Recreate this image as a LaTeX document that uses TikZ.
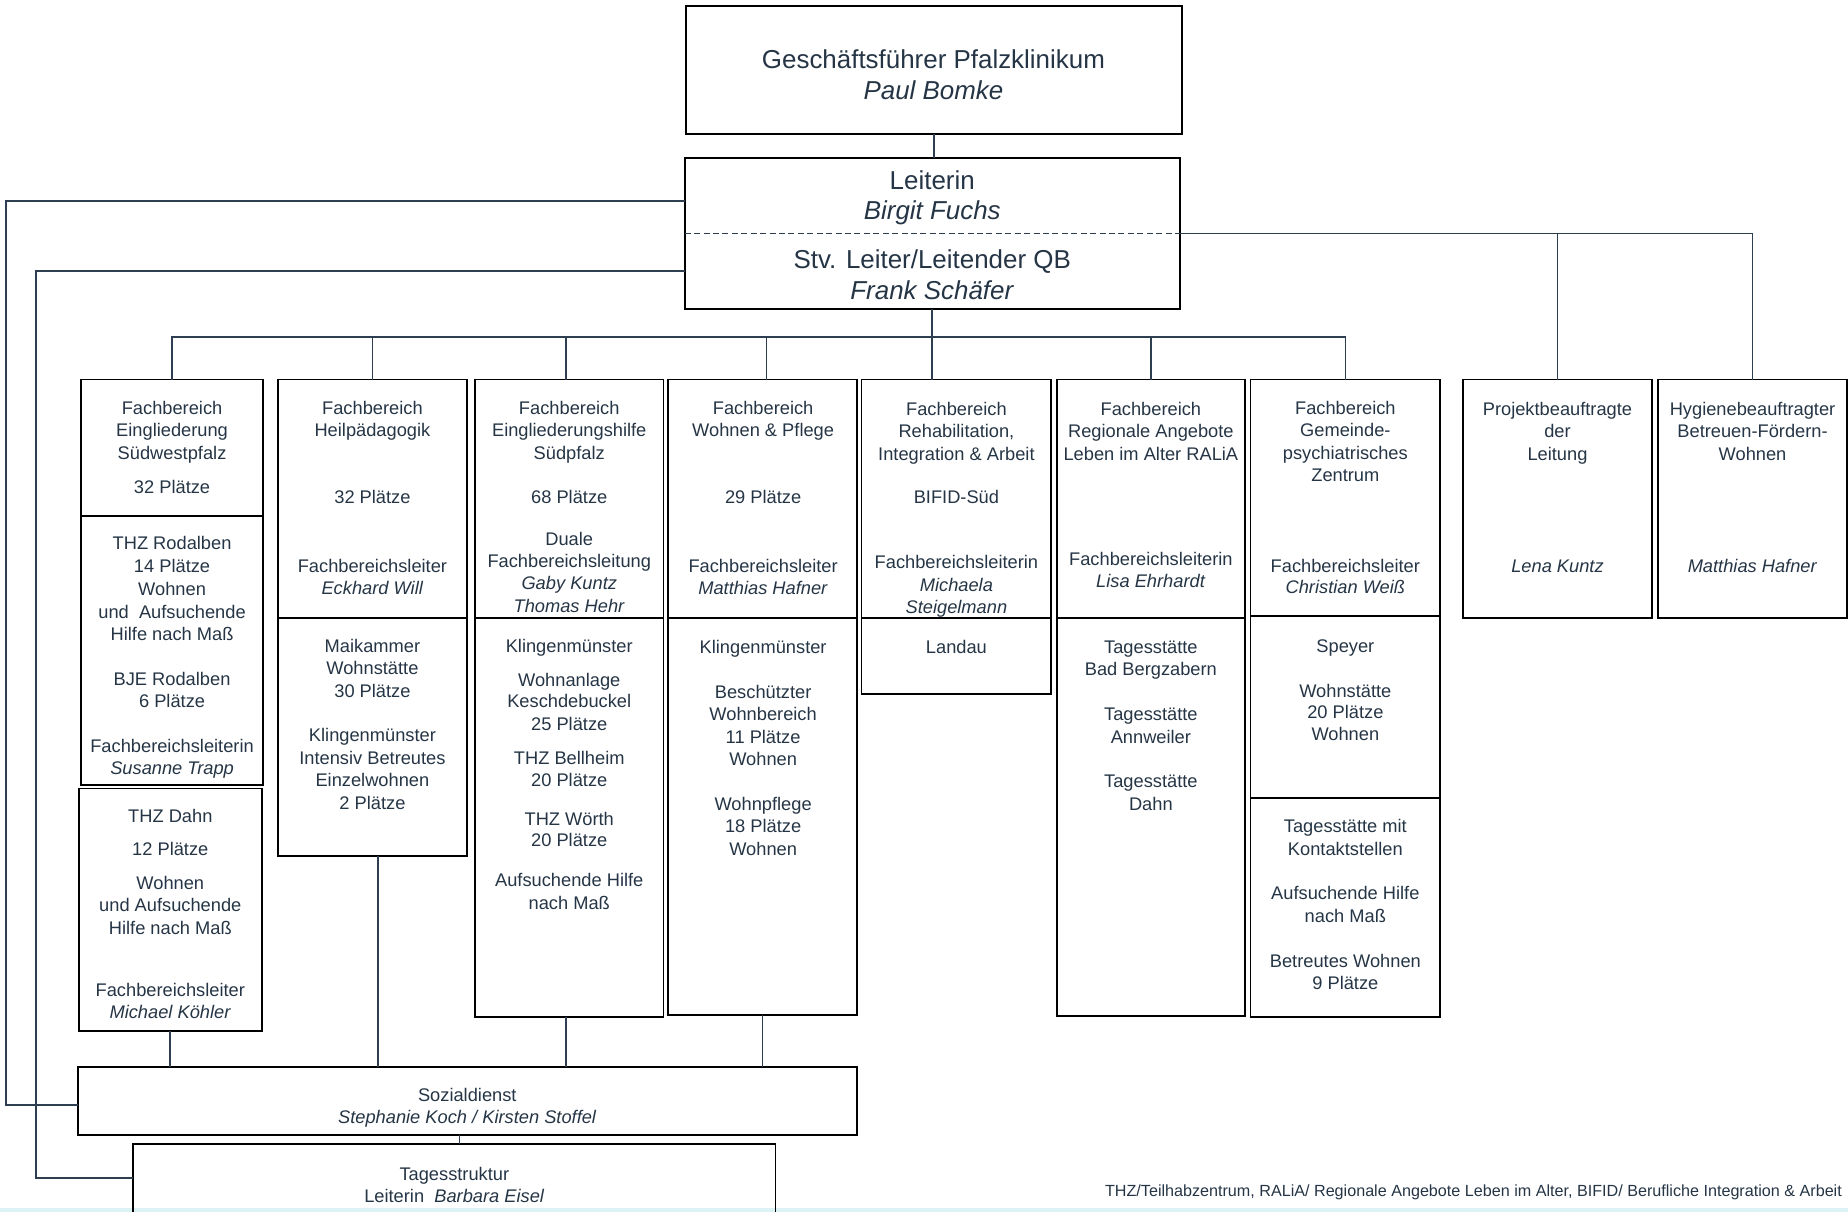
\documentclass[tikz,border=0pt]{standalone}
\usepackage{fontspec}
\setmainfont{Liberation Sans}
\definecolor{textc}{HTML}{253545}
\definecolor{linec}{HTML}{2C3E50}
\definecolor{stripc}{HTML}{DDF2F4}
\newcounter{lnc}
\newcommand\Lines[2]{\foreach \yy/\tx in {#2}{\stepcounter{lnc}\node[txt] (ln\arabic{lnc}) at (#1,\yy+5.5) {\tx};}}
\newcommand\Bx[5]{\node[box, minimum width={(#4-#2)*1pt}, minimum height={(#5-#3)*1pt}] (#1) at ({(#2+#4)/2},{(#3+#5)/2}) {};}
\tikzset{
  box/.style={draw=black, line width=1.6pt, inner sep=0pt, outer sep=0pt, rectangle},
  conn/.style={draw=linec, line width=1.4pt},
  txt/.style={anchor=base, inner sep=0pt, text=textc, font=\fontsize{15.5}{19}\selectfont},
  big/.style={anchor=base, inner sep=0pt, text=textc, font=\fontsize{22}{27}\selectfont},
  foot/.style={anchor=base east, inner sep=0pt, text=textc, font=\fontsize{13.7}{16}\selectfont},
}
\begin{document}
\begin{tikzpicture}[x=1pt,y=-1pt]
\useasboundingbox (0,0) rectangle (1568,1028);
\fill[stripc] (0,1025) rectangle (1568,1030);

% top boxes
\Bx{gf}{582}{5}{1003}{114}
\Bx{lead}{581}{134}{1001}{262}
\coordinate (dashL) at (581,198);
\coordinate (dashR) at (1001,198);
\draw[linec, line width=1.3pt, dash pattern=on 5pt off 3pt] (dashL) -- (dashR);
\node[big] (gft1) at (792,51+7.5) {Geschäftsführer Pfalzklinikum};
\node[big] (gft2) at (792,77+7.5) {\textit{Paul Bomke}};
\node[big] (ld1) at (791,153+7.5) {Leiterin};
\node[big] (ld2) at (791,179+7.5) {\textit{Birgit Fuchs}};
\node[big] (ld3) at (791,220+7.5) {Stv. Leiter/Leitender QB};
\node[big] (ld4) at (791,247+7.5) {\textit{Frank Schäfer}};

% department boxes
\Bx{fb1a}{69}{322}{223}{438}
\Bx{fb1b}{69}{438}{223}{666}
\Bx{dahn}{67}{669}{222}{875}
\Bx{fb2a}{236}{322}{396}{524}
\Bx{fb2b}{236}{524}{396}{726}
\Bx{fb3a}{403}{322}{563}{524}
\Bx{fb3b}{403}{524}{563}{863}
\Bx{fb4a}{567}{322}{727}{524}
\Bx{fb4b}{567}{524}{727}{861}
\Bx{fb5a}{731}{322}{892}{524}
\Bx{fb5b}{731}{524}{892}{589}
\Bx{fb6a}{897}{322}{1056}{524}
\Bx{fb6b}{897}{524}{1056}{862}
\Bx{fb7a}{1061}{322}{1222}{523}
\Bx{fb7b}{1061}{523}{1222}{677}
\Bx{fb7c}{1061}{677}{1222}{863}
\Bx{proj}{1241}{322}{1402}{524}
\Bx{hyg}{1407}{322}{1567}{524}
\Bx{soz}{66}{905}{727}{963}
\Bx{tag}{113}{971}{658}{1045}

% texts
\Lines{146}{346/Fachbereich,365/Eingliederung,384/Südwestpfalz,413/32 Plätze,
 461/THZ Rodalben,480/14 Plätze,500/Wohnen,519/und\ \ Aufsuchende,538/Hilfe nach Maß,
 576/BJE Rodalben,595/6 Plätze,633/Fachbereichsleiterin,652/\textit{Susanne Trapp}}
\Lines{144.5}{692/THZ Dahn,720/12 Plätze,749/Wohnen,768/und Aufsuchende,787/Hilfe nach Maß,
 840/Fachbereichsleiter,859/\textit{Michael Köhler}}
\Lines{316}{346/Fachbereich,365/Heilpädagogik,422/32 Plätze,480/Fachbereichsleiter,499/\textit{Eckhard Will},
 548/Maikammer,567/Wohnstätte,586/30 Plätze,624/Klingenmünster,643/Intensiv Betreutes,662/Einzelwohnen,681/2 Plätze}
\Lines{483}{346/Fachbereich,365/Eingliederungshilfe,384/Südpfalz,422/68 Plätze,457/Duale,476/Fachbereichsleitung,
 495/\textit{Gaby Kuntz},514/\textit{Thomas Hehr},
 548/Klingenmünster,577/Wohnanlage,595/Keschdebuckel,614/25 Plätze,643/THZ Bellheim,662/20 Plätze,
 695/THZ Wörth,713/20 Plätze,747/Aufsuchende Hilfe,766/nach Maß}
\Lines{647.5}{346/Fachbereich,365/Wohnen \& Pflege,422/29 Plätze,480/Fachbereichsleiter,499/\textit{Matthias Hafner},
 549/Klingenmünster,587/Beschützter,606/Wohnbereich,625/11 Plätze,644/Wohnen,682/Wohnpflege,701/18 Plätze,720/Wohnen}
\Lines{811.5}{347/Fachbereich,366/{Rehabilitation,},385/Integration \& Arbeit,422/BIFID-Süd,477/Fachbereichsleiterin,
 496/\textit{Michaela},515/\textit{Steigelmann},549/Landau}
\Lines{976.5}{347/Fachbereich,366/Regionale Angebote,385/Leben im Alter RALiA,474/Fachbereichsleiterin,493/\textit{Lisa Ehrhardt},
 549/Tagesstätte,568/Bad Bergzabern,606/Tagesstätte,625/Annweiler,663/Tagesstätte,682/Dahn}
\Lines{1141.5}{346/Fachbereich,365/Gemeinde-,384/psychiatrisches,403/Zentrum,480/Fachbereichsleiter,498/\textit{Christian Weiß},
 548/Speyer,586/Wohnstätte,604/20 Plätze,623/Wohnen,
 701/Tagesstätte mit,720/Kontaktstellen,758/Aufsuchende Hilfe,777/nach Maß,815/Betreutes Wohnen,834/9 Plätze}
\Lines{1321.5}{347/Projektbeauftragte,366/der,385/Leitung,480/\textit{Lena Kuntz}}
\Lines{1487}{347/Hygienebeauftragter,366/Betreuen-Fördern-,385/Wohnen,480/\textit{Matthias Hafner}}
\Lines{396.5}{929/Sozialdienst,948/\textit{Stephanie Koch / Kirsten Stoffel}}
\Lines{385.5}{996/Tagesstruktur,1015/Leiterin\ \ \textit{Barbara Eisel}}
\node[foot] (fn) at (1563,1015) {THZ/Teilhabzentrum, RALiA/ Regionale Angebote Leben im Alter, BIFID/ Berufliche Integration \& Arbeit};

% connectors
\coordinate (busy) at (0,286);
\coordinate (lx1) at (5,0);
\coordinate (lx2) at (30.5,0);
\coordinate (leadL1) at ([yshift=27.5pt]lead.west);
\coordinate (leadL2) at ([yshift=-32pt]lead.west);
\coordinate (sozL) at ([yshift=-3.5pt]soz.west);
\coordinate (tagL) at ([yshift=8.5pt]tag.west);
\draw[conn] (gf.south) -- (gf.south |- lead.north);
\draw[conn] (lead.south) -- (lead.south |- fb5a.north);
\draw[conn] (fb1a.north) -- (fb1a.north |- busy) -- (fb7a.north |- busy) -- (fb7a.north);
\draw[conn] (fb2a.north) -- (fb2a.north |- busy);
\draw[conn] ([xshift=-3pt]fb3a.north) -- ([xshift=-3pt]fb3a.north |- busy);
\draw[conn] ([xshift=3.5pt]fb4a.north) -- ([xshift=3.5pt]fb4a.north |- busy);
\draw[conn] (fb6a.north) -- (fb6a.north |- busy);
\draw[conn] (dashR) -| (hyg.north);
\draw[conn] (proj.north) -- (proj.north |- dashR);
\draw[conn] (leadL1) -| (lx1 |- sozL) -- (sozL);
\draw[conn] (leadL2) -| (lx2 |- tagL) -- (tagL);
\draw[conn] (dahn.south) -- (dahn.south |- soz.north);
\draw[conn] ([xshift=4.5pt]fb2b.south) -- ([xshift=4.5pt]fb2b.south |- soz.north);
\draw[conn] ([xshift=-3pt]fb3b.south) -- ([xshift=-3pt]fb3b.south |- soz.north);
\draw[conn] (fb4b.south) -- (fb4b.south |- soz.north);
\draw[conn] ([xshift=-6.5pt]soz.south) -- ([xshift=-6.5pt]soz.south |- tag.north);
\end{tikzpicture}
\end{document}
